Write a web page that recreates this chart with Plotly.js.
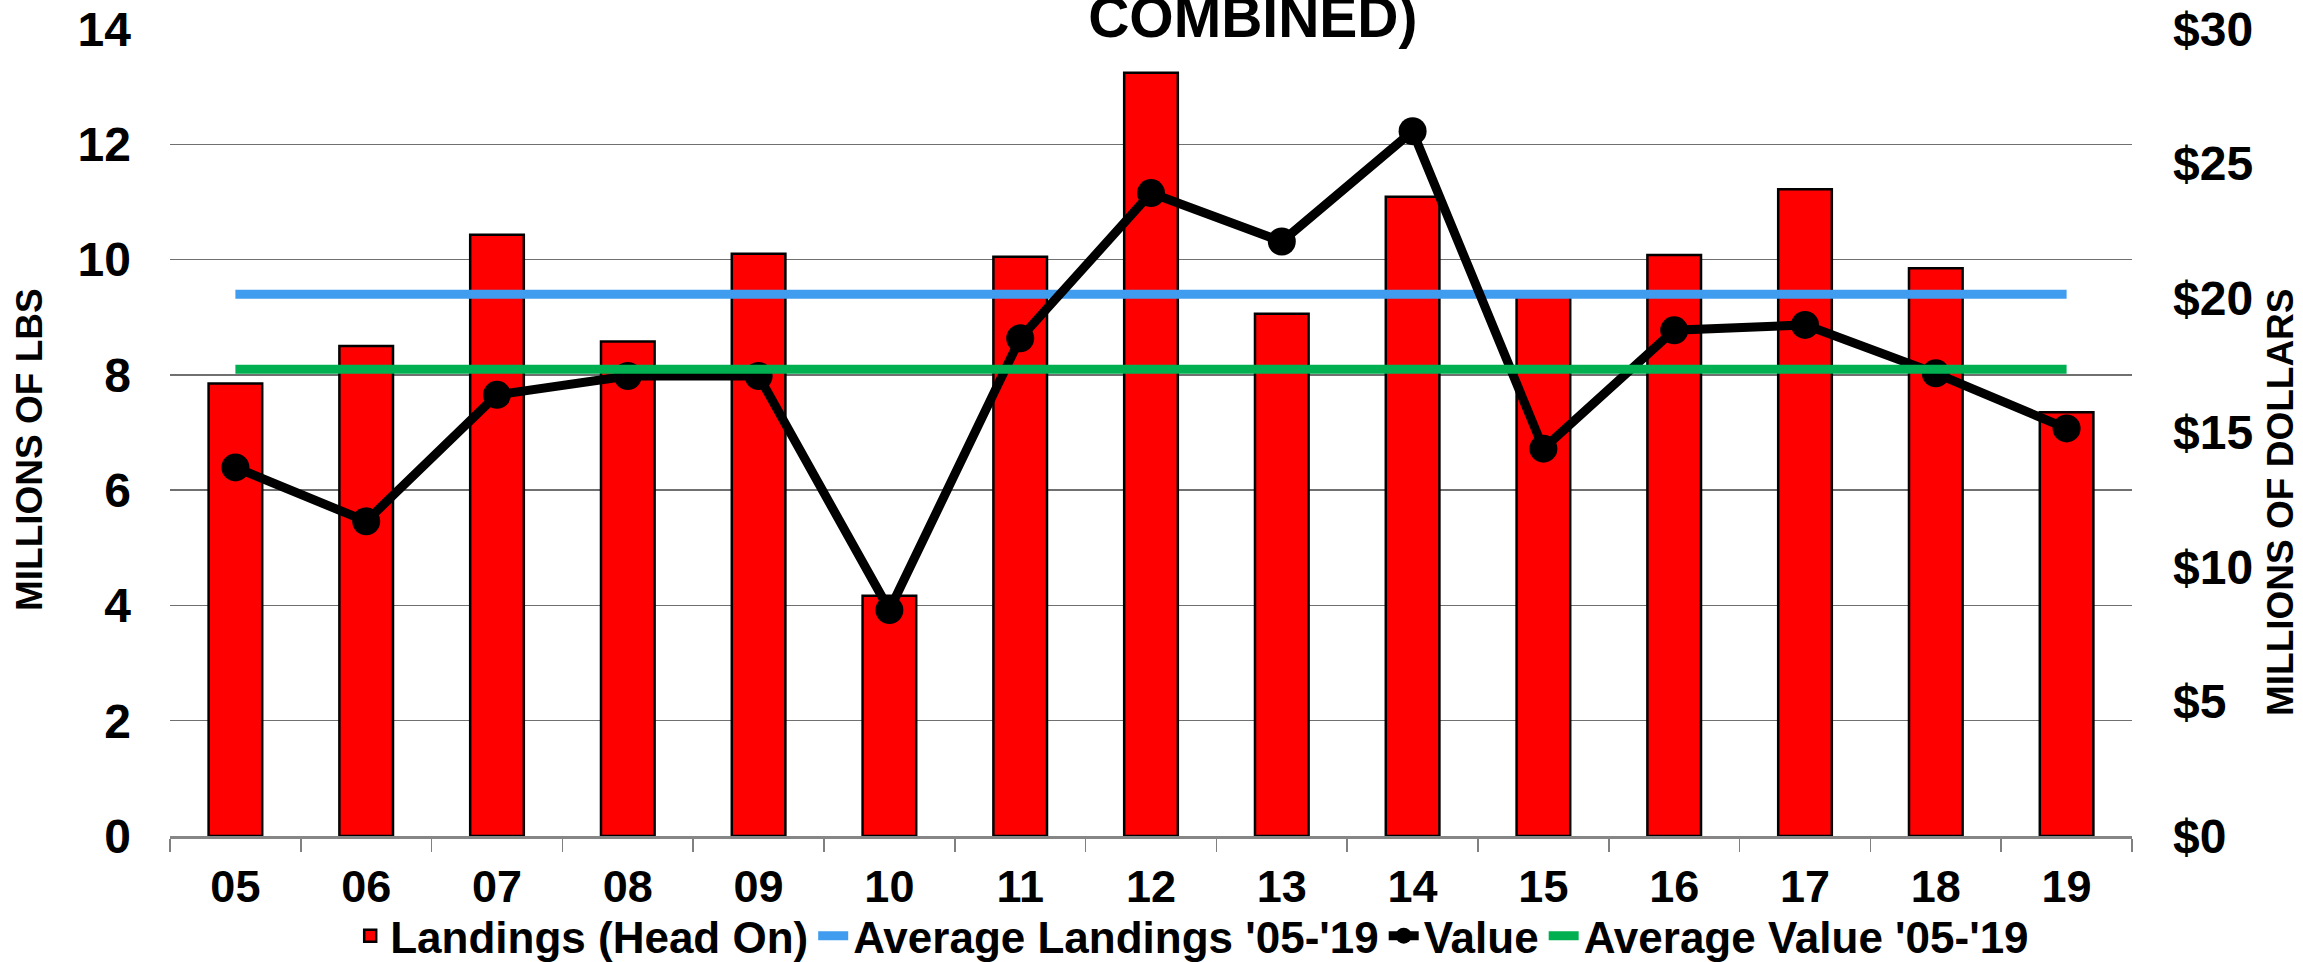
<!DOCTYPE html>
<html>
<head>
<meta charset="utf-8">
<script src="https://cdn.plot.ly/plotly-3.0.1.min.js"></script>
<style>html,body{margin:0;padding:0;background:#fff;}#chart{width:2303px;height:962px;}</style>
</head>
<body>
<div id="chart"></div>
<script>
const years = ['05','06','07','08','09','10','11','12','13','14','15','16','17','18','19'];
const landings = [7.85, 8.50, 10.43, 8.58, 10.10, 4.17, 10.05, 13.24, 9.06, 11.09, 9.45, 10.08, 11.22, 9.85, 7.35];
const values = [13.7, 11.7, 16.4, 17.1, 17.1, 8.4, 18.5, 23.9, 22.1, 26.2, 14.4, 18.8, 19.0, 17.2, 15.15];
const avgLandings = [9.4, 9.4, 9.4, 9.4, 9.4, 9.4, 9.4, 9.4, 9.4, 9.4, 9.4, 9.4, 9.4, 9.4, 9.4];
const avgValue = [17.35, 17.35, 17.35, 17.35, 17.35, 17.35, 17.35, 17.35, 17.35, 17.35, 17.35, 17.35, 17.35, 17.35, 17.35];
const leftTicks = [0, 2, 4, 6, 8, 10, 12, 14];
const rightTicks = [0, 5, 10, 15, 20, 25, 30];
const rightTickLabels = ['$0', '$5', '$10', '$15', '$20', '$25', '$30'];

const ARIAL = 'Liberation Sans, Arial, sans-serif';

const traces = [
  {type:'bar', name:'Landings (Head On)', x:years, y:landings, xaxis:'x', yaxis:'y',
   marker:{color:'#FF0000', line:{color:'#000000', width:2.5}}},
  {type:'scatter', mode:'lines', name:"Average Landings '05-'19", x:years, y:avgLandings, xaxis:'x', yaxis:'y',
   line:{color:'#409CEE', width:9}},
  {type:'scatter', mode:'lines+markers', name:'Value', x:years, y:values, xaxis:'x', yaxis:'y2',
   line:{color:'#000000', width:9}, marker:{color:'#000000', size:28}},
  {type:'scatter', mode:'lines', name:"Average Value '05-'19", x:years, y:avgValue, xaxis:'x', yaxis:'y2',
   line:{color:'#00B050', width:9}}
];

const layout = {
  width:2303, height:962,
  paper_bgcolor:'#ffffff', plot_bgcolor:'#ffffff',
  margin:{l:170, r:171, t:29, b:126},
  showlegend:true,
  bargap:0.59,
  title:{text:'COMBINED)', xref:'container', yref:'container', x:0.544, xanchor:'center', y:0.9615, yanchor:'bottom',
         font:{family:ARIAL, size:57, weight:'bold', color:'#000'}},
  xaxis:{type:'category', range:[-0.5,14.5], tickson:'boundaries', ticks:'outside', ticklen:13, tickwidth:1.5, tickcolor:'#808080',
         showline:true, linecolor:'#868686', linewidth:2.5, showgrid:false, zeroline:false,
         ticklabelstandoff:9,
         tickfont:{family:ARIAL, size:45, weight:'bold', color:'#000'}},
  xaxis2:{type:'linear', overlaying:'x', anchor:'y', side:'bottom', range:[-0.5,14.5], tick0:-0.5, dtick:1,
          ticks:'inside', ticklen:13, tickwidth:1.5, tickcolor:'#808080', showticklabels:false, showgrid:false, zeroline:false, showline:false},
  yaxis:{range:[0,14], tickvals:leftTicks, showgrid:true, gridcolor:'#707070', gridwidth:1.3, zeroline:false, showline:false, ticks:'',
         ticklabelstandoff:38,
         tickfont:{family:ARIAL, size:48, weight:'bold', color:'#000'}},
  yaxis2:{range:[0,30], tickvals:rightTicks, ticktext:rightTickLabels, overlaying:'y', side:'right', showgrid:false, zeroline:false, showline:false, ticks:'',
          ticklabelstandoff:40,
          tickfont:{family:ARIAL, size:48, weight:'bold', color:'#000'}},
  legend:{orientation:'h', xref:'paper', x:0.521, xanchor:'center', yref:'container', y:0.027, yanchor:'middle', traceorder:'normal',
          font:{family:ARIAL, size:44, weight:'bold', color:'#000'}, itemwidth:30, bgcolor:'rgba(0,0,0,0)'},
  shapes:[
    {type:'rect', xref:'paper', yref:'paper', x0:0.1157, x1:0.9847, y0:0.98, y1:1.04, fillcolor:'#ffffff', line:{width:0}, layer:'above'}
  ],
  annotations:[
    {text:'MILLIONS OF LBS', xref:'paper', yref:'paper', x:(30-170)/1962, y:(836-450)/807, xanchor:'center', yanchor:'middle',
     textangle:-90, showarrow:false, font:{family:ARIAL, size:37, weight:'bold', color:'#000'}},
    {text:'MILLIONS OF DOLLARS', xref:'paper', yref:'paper', x:(2280-170)/1962, y:(836-502)/807, xanchor:'center', yanchor:'middle',
     textangle:-90, showarrow:false, font:{family:ARIAL, size:37, weight:'bold', color:'#000'}}
  ]
};

Plotly.newPlot('chart', traces, layout, {displayModeBar:false, staticPlot:true});
</script>
</body>
</html>
